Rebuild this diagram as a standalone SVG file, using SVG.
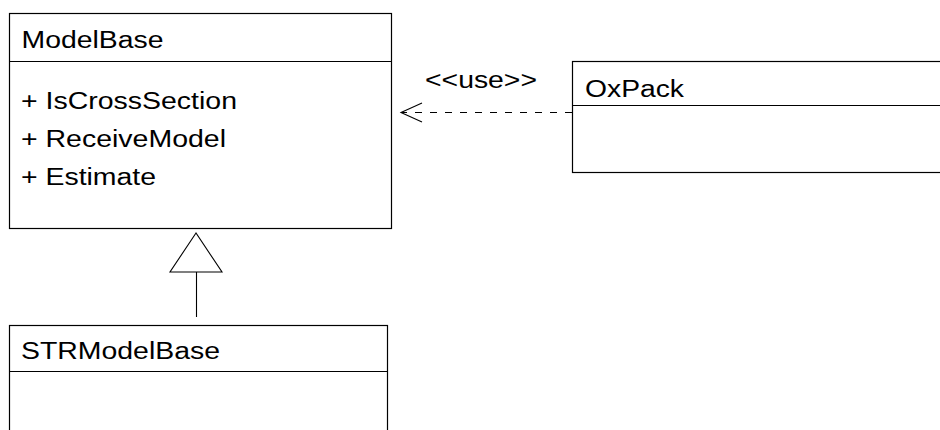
<svg xmlns="http://www.w3.org/2000/svg" width="940" height="430" viewBox="0 0 940 430">
<style>
.box{fill:#fff;stroke:#000;stroke-width:1.2}
.sep{stroke:#000;stroke-width:1.2}
text{font-family:"Liberation Sans",Arial,sans-serif;font-size:23.3px;fill:#000}
.conn{fill:none;stroke:#000;stroke-width:1.1}
</style>
<rect width="940" height="430" fill="#fff"/>
<g id="ModelBase">
<rect class="box" x="9.5" y="13.5" width="382" height="215"/>
<line class="sep" x1="9.5" y1="61.5" x2="391.5" y2="61.5"/>
<text x="21.5" y="48.3" textLength="142" lengthAdjust="spacingAndGlyphs">ModelBase</text>
<text x="21" y="109" textLength="216" lengthAdjust="spacingAndGlyphs">+ IsCrossSection</text>
<text x="21" y="147.3" textLength="205" lengthAdjust="spacingAndGlyphs">+ ReceiveModel</text>
<text x="21" y="185.3" textLength="135" lengthAdjust="spacingAndGlyphs">+ Estimate</text>
</g>
<g id="OxPack">
<rect class="box" x="572.5" y="61.5" width="380" height="111"/>
<line class="sep" x1="572.5" y1="105.5" x2="940" y2="105.5"/>
<text x="585" y="96.7" textLength="99" lengthAdjust="spacingAndGlyphs">OxPack</text>
</g>
<g id="STRModelBase">
<rect class="box" x="9.5" y="325.5" width="378" height="120"/>
<line class="sep" x1="9.5" y1="371.5" x2="387.5" y2="371.5"/>
<text x="21" y="359.3" textLength="199" lengthAdjust="spacingAndGlyphs">STRModelBase</text>
</g>
<g id="connectors">
<line class="conn" x1="572" y1="112.5" x2="402" y2="112.5" stroke-dasharray="7,8" stroke="#333"/>
<polyline class="conn" points="422,103 401,112.5 422,122"/>
<text x="425" y="88.3" textLength="112" lengthAdjust="spacingAndGlyphs">&lt;&lt;use&gt;&gt;</text>
<polygon class="conn" points="196,233 170,272 222,272"/>
<line class="conn" x1="196.5" y1="272" x2="196.5" y2="317"/>
</g>
</svg>
